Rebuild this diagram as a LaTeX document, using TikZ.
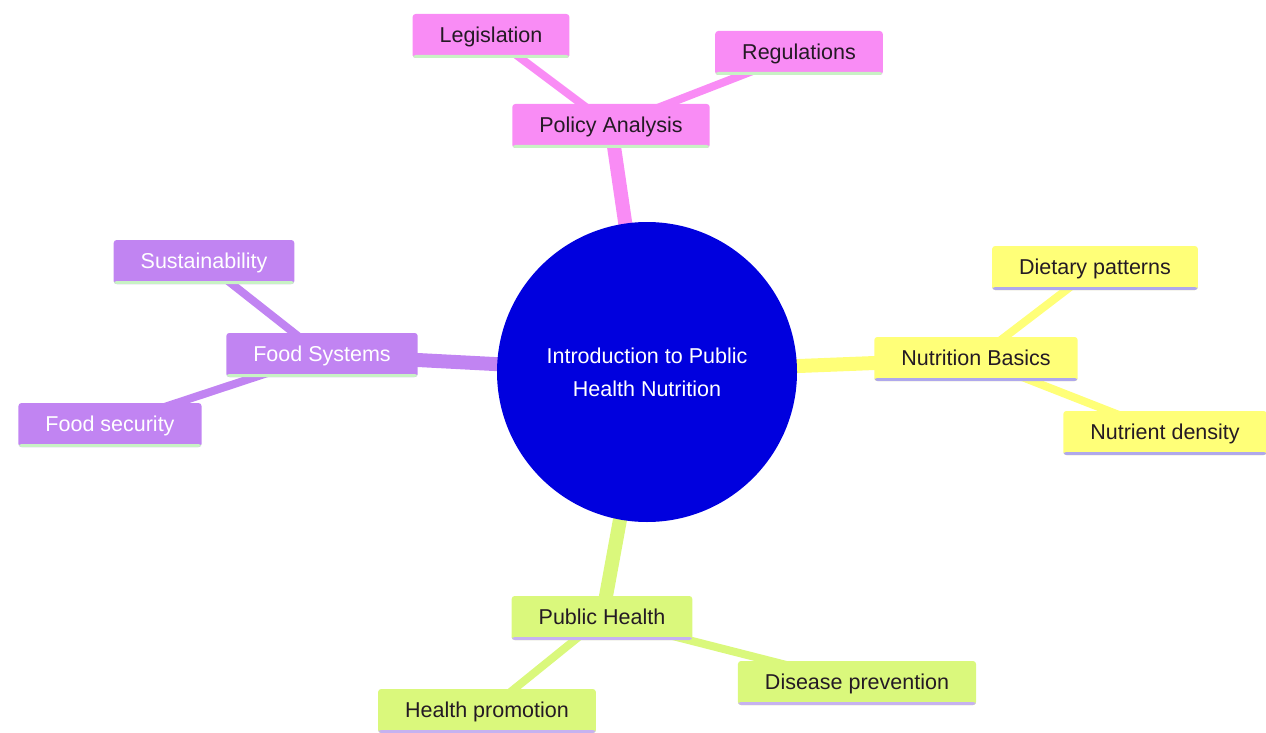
\documentclass[tikz,border=0pt]{standalone}
\usepackage{fontspec}
\setmainfont{Liberation Sans}
\usetikzlibrary{backgrounds}

\definecolor{pinkfill}{HTML}{F98CF5}
\definecolor{purplefill}{HTML}{C184F2}
\definecolor{yellowfill}{HTML}{FFFF78}
\definecolor{greenfill}{HTML}{DAF87C}
\definecolor{rootblue}{HTML}{0000DE}
\definecolor{mintline}{HTML}{C8F2C4}
\definecolor{lilacline}{HTML}{AFA8EC}
\definecolor{mauveline}{HTML}{C6B2F0}
\definecolor{darktext}{HTML}{241A24}

\begin{document}
\begin{tikzpicture}[x=1pt,y=-1pt,
	every node/.style={font=\fontsize{21.5}{33}\selectfont},
	topic/.style n args={3}{rectangle,rounded corners=3pt,minimum height=44pt,
		inner xsep=27pt,inner ysep=0pt,text depth=3pt,fill=#1,text=#3,
		path picture={\fill[#2] ([yshift=3pt]path picture bounding box.south west)
			rectangle (path picture bounding box.south east);}},
	rootedge/.style={line width=14pt,#1},
	subedge/.style={line width=8pt,#1}]

	\useasboundingbox (0,0) rectangle (1266,733);

	% centre
	\node[circle,fill=rootblue,text=white,minimum size=300pt,align=center] (root) at (647,372)
		{Introduction to Public\\Health Nutrition};

	% branches
	\node[topic={pinkfill}{mintline}{darktext}] (policy) at (611,126) {Policy Analysis};
	\node[topic={pinkfill}{mintline}{darktext}] (legis) at (491,36) {Legislation};
	\node[topic={pinkfill}{mintline}{darktext}] (regul) at (799,53) {Regulations};

	\node[topic={purplefill}{mintline}{white}] (foodsys) at (322,355) {Food Systems};
	\node[topic={purplefill}{mintline}{white}] (sustain) at (204,262) {Sustainability};
	\node[topic={purplefill}{mintline}{white}] (foodsec) at (110,425) {Food security};

	\node[topic={yellowfill}{lilacline}{darktext}] (nutbasic) at (976,359) {Nutrition Basics};
	\node[topic={yellowfill}{lilacline}{darktext}] (dietary) at (1095,268) {Dietary patterns};
	\node[topic={yellowfill}{lilacline}{darktext}] (nutdens) at (1165,433) {Nutrient density};

	\node[topic={greenfill}{mauveline}{darktext}] (pubhealth) at (602,618) {Public Health};
	\node[topic={greenfill}{mauveline}{darktext}] (disease) at (857,683) {Disease prevention};
	\node[topic={greenfill}{mauveline}{darktext}] (promo) at (487,711) {Health promotion};

	% links
	\begin{scope}[on background layer]
		\draw[rootedge=pinkfill] (root.center) -- (policy.center);
		\draw[rootedge=purplefill] (root.center) -- (foodsys.center);
		\draw[rootedge=yellowfill] (root.center) -- (nutbasic.center);
		\draw[rootedge=greenfill] (root.center) -- (pubhealth.center);
		\draw[subedge=pinkfill] (policy.center) -- (legis.center);
		\draw[subedge=pinkfill] (policy.center) -- (regul.center);
		\draw[subedge=purplefill] (foodsys.center) -- (sustain.center);
		\draw[subedge=purplefill] (foodsys.center) -- (foodsec.center);
		\draw[subedge=yellowfill] (nutbasic.center) -- (dietary.center);
		\draw[subedge=yellowfill] (nutbasic.center) -- (nutdens.center);
		\draw[subedge=greenfill] (pubhealth.center) -- (disease.center);
		\draw[subedge=greenfill] (pubhealth.center) -- (promo.center);
	\end{scope}
\end{tikzpicture}
\end{document}
